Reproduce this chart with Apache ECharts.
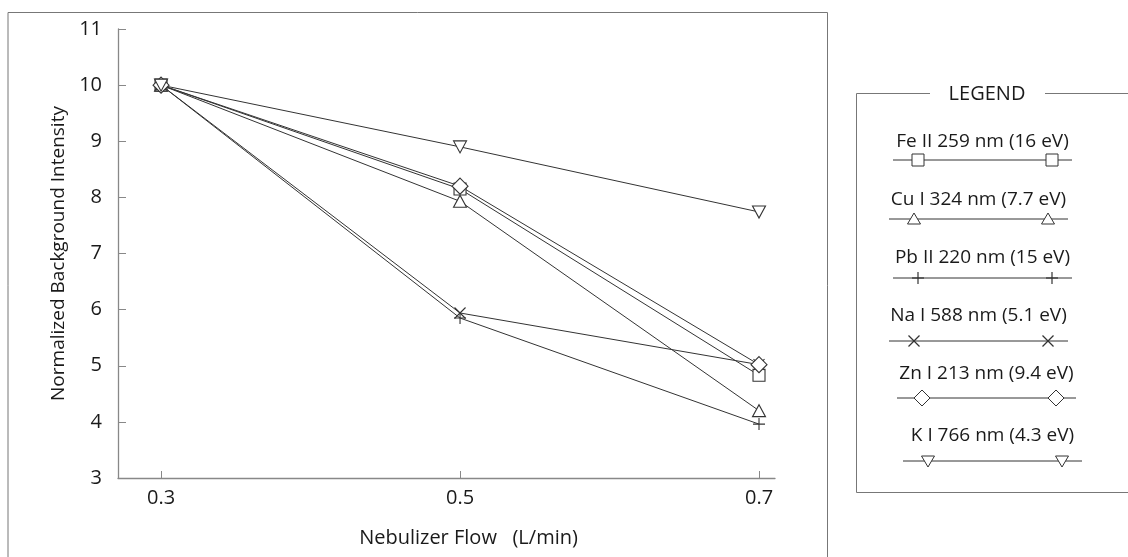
<!DOCTYPE html>
<html>
<head>
<meta charset="utf-8">
<script src="https://cdn.jsdelivr.net/npm/echarts@6/dist/echarts.min.js"></script>
<style>
  html, body { margin: 0; padding: 0; background: #fff; }
  #chart { width: 1128px; height: 557px; }
</style>
</head>
<body>
<div id="chart"></div>
<script>
// flow values (L/min)
const flows = [0.3, 0.5, 0.7];
const xTicks = [0.3, 0.5, 0.7];

// normalized background intensity per line
const feII259 = [10, 8.15, 4.83];
const cuI324 = [10, 7.93, 4.2];
const pbII220 = [10, 5.85, 3.96];
const naI588 = [10, 5.94, 5.02];
const znI213 = [10, 8.2, 5.02];
const kI766 = [10, 8.9, 7.74];

const names = [
  "Fe II 259 nm (16 eV)",
  "Cu I 324 nm (7.7 eV)",
  "Pb II 220 nm (15 eV)",
  "Na I 588 nm (5.1 eV)",
  "Zn I 213 nm (9.4 eV)",
  "K I 766 nm (4.3 eV)"
];
const values = [feII259, cuI324, pbII220, naI588, znI213, kI766];

const ink = "#333";
const font = "Open Sans";

// marker shapes, hollow
const symbols = [
  { symbol: "rect", size: 12, fill: "#fff" },
  { symbol: "path://M5,0L10,9L0,9Z", size: [13, 12], fill: "#fff" },
  { symbol: "path://M5,0L5,10M0,5L10,5", size: 12, fill: "none" },
  { symbol: "path://M0,0L10,10M10,0L0,10", size: 11, fill: "none" },
  { symbol: "diamond", size: [16, 16], fill: "#fff" },
  { symbol: "path://M0,0L10,0L5,9Z", size: [13, 12], fill: "#fff" }
];

const series = names.map((n, i) => ({
  name: n,
  type: "line",
  data: flows.map((f, j) => [f, values[i][j]]),
  symbol: symbols[i].symbol,
  symbolSize: symbols[i].size,
  showAllSymbol: true,
  lineStyle: { color: ink, width: 1 },
  itemStyle: { color: symbols[i].fill, borderColor: ink, borderWidth: 1.1 },
  emphasis: { disabled: true },
  animation: false,
  z: 2
}));

// legend drawn as text above a short line with two markers
const legendX0 = 893, legendX1 = 1072;
const legendTextY = [142, 200, 258, 316, 374, 436];
const legendLineY = [160, 219, 278, 341, 398, 461];
const legendShift = [0, -4, 0, -4, 4, 10];

function markerGraphic(i, cx, cy) {
  const s = 6;
  const st = { fill: "#fff", stroke: ink, lineWidth: 1 };
  switch (i) {
    case 0: return { type: "rect", shape: { x: cx - s, y: cy - s, width: 2 * s, height: 2 * s }, style: st };
    case 1: return { type: "polygon", shape: { points: [[cx, cy - 6], [cx + 6.5, cy + 5], [cx - 6.5, cy + 5]] }, style: st };
    case 2: return { type: "group", children: [
      { type: "line", shape: { x1: cx - 6, y1: cy, x2: cx + 6, y2: cy }, style: { stroke: ink, lineWidth: 1.2 } },
      { type: "line", shape: { x1: cx, y1: cy - 6, x2: cx, y2: cy + 6 }, style: { stroke: ink, lineWidth: 1.2 } }
    ] };
    case 3: return { type: "group", children: [
      { type: "line", shape: { x1: cx - 5.5, y1: cy - 5.5, x2: cx + 5.5, y2: cy + 5.5 }, style: { stroke: ink, lineWidth: 1.2 } },
      { type: "line", shape: { x1: cx + 5.5, y1: cy - 5.5, x2: cx - 5.5, y2: cy + 5.5 }, style: { stroke: ink, lineWidth: 1.2 } }
    ] };
    case 4: return { type: "polygon", shape: { points: [[cx, cy - 8], [cx + 8, cy], [cx, cy + 8], [cx - 8, cy]] }, style: st };
    default: return { type: "polygon", shape: { points: [[cx - 6.5, cy - 5], [cx + 6.5, cy - 5], [cx, cy + 6]] }, style: st };
  }
}

const legendItems = [];
names.forEach((n, i) => {
  const dx = legendShift[i];
  legendItems.push({
    type: "text",
    x: (legendX0 + legendX1) / 2 + dx, y: legendTextY[i],
    style: { text: n, font: "19px " + font, fill: "#1a1a1a", align: "center", verticalAlign: "middle" }
  });
  legendItems.push({
    type: "line",
    shape: { x1: legendX0 + dx, y1: legendLineY[i], x2: legendX1 + dx, y2: legendLineY[i] },
    style: { stroke: ink, lineWidth: 1 }
  });
  legendItems.push(markerGraphic(i, legendX0 + 25 + dx, legendLineY[i]));
  legendItems.push(markerGraphic(i, legendX1 - 20 + dx, legendLineY[i]));
});

const chart = echarts.init(document.getElementById("chart"), null, { renderer: "canvas" });

chart.setOption({
  backgroundColor: "#fff",
  animation: false,
  textStyle: { fontFamily: font },
  grid: { left: 118, right: 353, top: 29, bottom: 79, containLabel: false },
  xAxis: {
    type: "value",
    min: 0.2712,
    max: 0.7107,
    name: "Nebulizer Flow   (L/min)",
    nameLocation: "middle",
    nameGap: 50,
    nameTextStyle: { fontSize: 20, color: "#1a1a1a", fontFamily: font, padding: [0, 0, 0, 44] },
    axisLine: { lineStyle: { color: "#888", width: 1.3 } },
    axisTick: { inside: true, length: 7, lineStyle: { color: "#888" }, customValues: xTicks },
    axisLabel: { fontSize: 20, color: "#1a1a1a", margin: 10, customValues: xTicks, formatter: v => v.toFixed(1) },
    splitLine: { show: false }
  },
  yAxis: {
    type: "value",
    min: 3,
    max: 11,
    interval: 1,
    name: "Normalized Background Intensity",
    nameLocation: "middle",
    nameGap: 46,
    nameTextStyle: { fontSize: 19, color: "#1a1a1a", fontFamily: font },
    axisLine: { show: true, lineStyle: { color: "#888", width: 1.3 } },
    axisTick: { show: true, inside: true, length: 8, lineStyle: { color: "#888" } },
    axisLabel: { fontSize: 20, color: "#1a1a1a", margin: 16 },
    splitLine: { show: false }
  },
  graphic: [
    {
      type: "polyline",
      shape: { points: [[8, 600], [8, 12.5], [827.5, 12.5], [827.5, 600]] },
      style: { stroke: "#777", lineWidth: 1, fill: null },
      silent: true
    },
    {
      type: "polyline",
      shape: { points: [[930, 93.5], [856.5, 93.5], [856.5, 492.5], [1140, 492.5]] },
      style: { stroke: "#777", lineWidth: 1, fill: null },
      silent: true
    },
    {
      type: "line",
      shape: { x1: 1045, y1: 93.5, x2: 1128, y2: 93.5 },
      style: { stroke: "#777", lineWidth: 1 },
      silent: true
    },
    {
      type: "text",
      x: 987, y: 94,
      style: { text: "LEGEND", font: "20px " + font, fill: "#1a1a1a", align: "center", verticalAlign: "middle" },
      silent: true
    },
    ...legendItems
  ],
  series: series
});
</script>
</body>
</html>
